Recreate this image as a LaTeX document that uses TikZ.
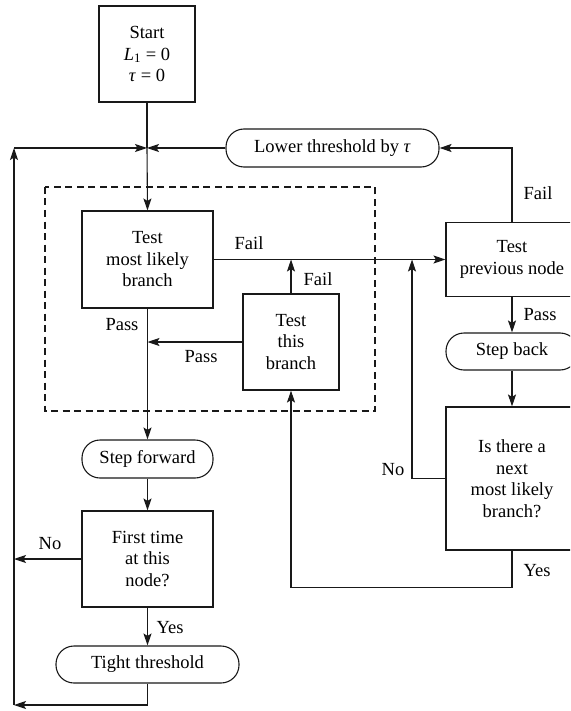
\documentclass[tikz,border=0pt]{standalone}
\usepackage{fontspec}
\setmainfont{Liberation Serif}
\usetikzlibrary{arrows.meta,positioning,calc}
\begin{document}
\begin{tikzpicture}[x=1pt,y=1pt,
  line width=1.1pt, draw=black!90,
  every node/.style={font=\fontsize{18.5}{21.5}\selectfont, text=black},
  box/.style={draw, rectangle, inner sep=0pt, align=center},
  term/.style={draw, rectangle, rounded corners=18pt, inner sep=0pt, align=center},
  arr/.style={-{Stealth[length=12pt,width=8pt,inset=2.5pt]}},
  lbl/.style={inner sep=0pt}
]
\clip (0,0) rectangle (570,-711);
\useasboundingbox (0,0) rectangle (570,-711);

% dashed region
\draw[dash pattern=on 7pt off 4.5pt] (45,-187) rectangle (375,-411);

% nodes
\node[box, minimum width=96pt, minimum height=96pt] (start) at (147,-54)
  {Start\\\textit{L}\textsubscript{1} = 0\\\textit{τ} = 0};
\node[term, minimum width=213pt, minimum height=38pt] (lower) at (332.5,-148)
  {Lower threshold by \textit{τ}};
\node[box, minimum width=131pt, minimum height=97pt] (tmlb) at (147.5,-259.5)
  {Test\\most likely\\branch};
\node[box, minimum width=96pt, minimum height=96pt] (ttb) at (291,-342)
  {Test\\this\\branch};
\node[box, minimum width=132pt, minimum height=74pt] (tpn) at (512,-259.5)
  {Test\\previous node};
\node[term, minimum width=132pt, minimum height=37pt] (back) at (512,-351.5)
  {Step back};
\node[box, minimum width=132pt, minimum height=143pt] (isnext) at (512,-478.5)
  {Is there a\\next\\most likely\\branch?};
\node[term, minimum width=131pt, minimum height=38pt] (fwd) at (147.5,-459)
  {Step forward};
\node[box, minimum width=131pt, minimum height=96pt] (first) at (147.5,-559)
  {First time\\at this\\node?};
\node[term, minimum width=183pt, minimum height=37pt] (tight) at (147.5,-664.5)
  {Tight threshold};

% coordinates
\coordinate (j) at (start.south |- lower.west);
\coordinate (tl) at (14,-148);
\coordinate (bl) at (14,-705);
\coordinate (nx) at (412,-259.5);

% connectors
\draw (start.south) -- (j);
\draw[arr] (j) -- (tmlb.north);
\draw[arr] (lower.west) -- (j);
\draw[arr] (tight.south) |- (bl);
\draw[arr] (bl) -- (tl);
\draw[arr] (tl) -- (j);

\draw[arr] (tmlb.south) -- (fwd.north);
\draw[arr] (ttb.west) -- (ttb.west -| tmlb.south);
\draw[arr] (tmlb.east) -- (tpn.west);
\draw[arr] (ttb.north) -- (ttb.north |- tmlb.east);
\draw[arr] (tpn.north) |- (lower.east);
\draw[arr] (tpn.south) -- (back.north);
\draw[arr] (back.south) -- (isnext.north);
\draw[arr] (isnext.west) -| (nx);
\draw[arr] (isnext.south) -- ++(0,-37) -| (ttb.south);

\draw[arr] (fwd.south) -- (first.north);
\draw[arr] (first.west) -- (first.west -| tl);
\draw[arr] (first.south) -- (tight.north);

% labels
\node[lbl] (l1) at (249,-243) {Fail};
\node[lbl] (l2) at (318,-279) {Fail};
\node[lbl] (l3) at (538,-193) {Fail};
\node[lbl] (l4) at (122,-325) {Pass};
\node[lbl] (l5) at (201,-357) {Pass};
\node[lbl] (l6) at (540,-315) {Pass};
\node[lbl] (l7) at (393,-470) {No};
\node[lbl] (l8) at (537,-571) {Yes};
\node[lbl] (l9) at (50,-544) {No};
\node[lbl] (l10) at (170,-628) {Yes};
\end{tikzpicture}
\end{document}
